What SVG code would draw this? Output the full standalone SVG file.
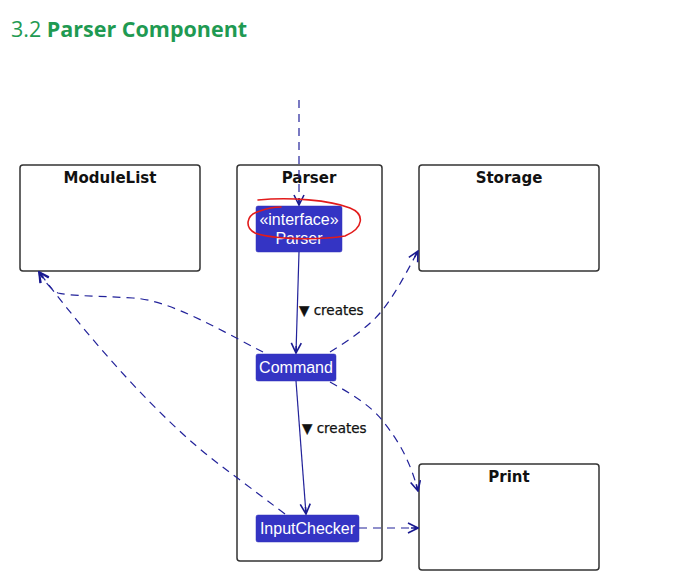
<svg xmlns="http://www.w3.org/2000/svg" width="678" height="588" viewBox="0 0 678 588">
<defs>
<style>
.box{fill:#fff;stroke:#333;stroke-width:1.5}
.title{font-family:"DejaVu Sans",sans-serif;font-weight:bold;font-size:15px;fill:#111;text-anchor:middle}
.node{fill:#3434c4;stroke:#3030b8;stroke-width:0.5}
.ntext{font-family:"Liberation Sans",Arial,sans-serif;font-size:16px;fill:#fff;text-anchor:middle}
.dash{fill:none;stroke:#22229a;stroke-width:1.2;stroke-dasharray:8,6}
.solid{fill:none;stroke:#22229a;stroke-width:1.2}
.lbl{font-family:"DejaVu Sans",sans-serif;font-size:13.5px;fill:#111;stroke:#111;stroke-width:0.25}
</style>
<marker id="arr" viewBox="0 0 12 12" refX="11" refY="6" markerWidth="12" markerHeight="12" markerUnits="userSpaceOnUse" orient="auto">
<path d="M1,1 L11,6 L1,11 M4,6 L11,6" fill="none" stroke="#1a1a90" stroke-width="1.6"/>
</marker>
</defs>
<rect width="678" height="588" fill="#fff"/>
<text x="11" y="37" font-family="'Open Sans',sans-serif" font-size="21.5" fill="#1f9a52">3.2 <tspan font-weight="bold">Parser Component</tspan></text>

<g id="ModuleList">
<rect class="box" x="20" y="165" width="180" height="106" rx="3"/>
<text class="title" x="110" y="183">ModuleList</text>
</g>
<g id="ParserPackage">
<rect class="box" x="237" y="165" width="145" height="396" rx="3"/>
<text class="title" x="309" y="183">Parser</text>
</g>
<g id="Storage">
<rect class="box" x="419" y="165" width="180" height="106" rx="3"/>
<text class="title" x="509" y="183">Storage</text>
</g>
<g id="Print">
<rect class="box" x="419" y="464" width="180" height="106" rx="3"/>
<text class="title" x="509" y="482">Print</text>
</g>
<g id="ParserInterface">
<rect class="node" x="256" y="206" width="86" height="46" rx="2"/>
<text class="ntext" x="299" y="225">«interface»</text>
<text class="ntext" x="299" y="244">Parser</text>
</g>
<g id="Command">
<rect class="node" x="256" y="354" width="80" height="27" rx="2"/>
<text class="ntext" x="296" y="373">Command</text>
</g>
<g id="InputChecker">
<rect class="node" x="256" y="515" width="103" height="27" rx="2"/>
<text class="ntext" x="307.500" y="534">InputChecker</text>
</g>

<g id="connectors">
<path class="dash" d="M299,100 L299,205" marker-end="url(#arr)"/>
<path class="solid" d="M299,252 L296,353" marker-end="url(#arr)"/>
<path class="solid" d="M296,381 L306,514" marker-end="url(#arr)"/>
<path class="dash" d="M263,352 C220,330 170,300 133,298 C100,296 70,296 58,293 C50,289 44,280 39,272" marker-end="url(#arr)"/>
<path class="dash" d="M285,514 C260,495 240,480 220,465 C160,420 90,340 39,272" marker-end="url(#arr)"/>
<path class="dash" d="M330,352 C350,340 370,325 380,313 C395,295 405,275 418,251" marker-end="url(#arr)"/>
<path class="dash" d="M330,382 C350,393 370,405 382,420 C398,440 410,460 418,491" marker-end="url(#arr)"/>
<path class="dash" d="M359,528 L418,528" marker-end="url(#arr)"/>
<text class="lbl" x="299" y="315">▼ creates</text>
<text class="lbl" x="302" y="433">▼ creates</text>
</g>

<path d="M258,200 C290,197 330,200 350,208 C365,214 364,228 345,236 C320,240 275,240 255,233 C245,228 245,215 260,211 C268,208 275,207 281,207" fill="none" stroke="#e21b1b" stroke-width="1.6" stroke-linecap="round"/>
</svg>
